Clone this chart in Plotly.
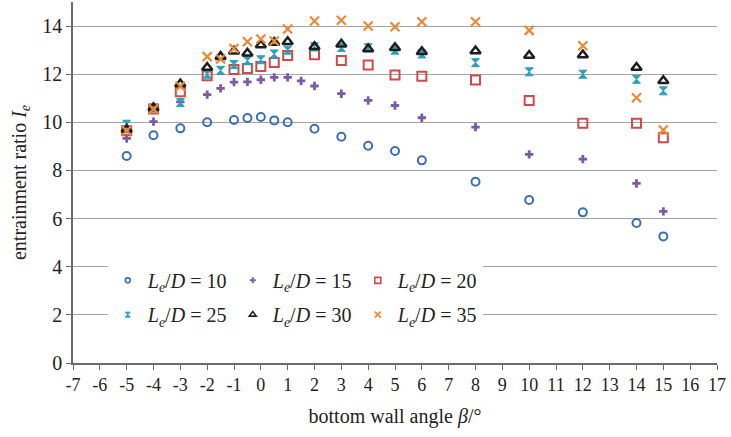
import plotly.graph_objects as go

# ---- data ----
x_10 = [-5, -4, -3, -2, -1, -0.5, 0, 0.5, 1, 2, 3, 4, 5, 6, 8, 10, 12, 14, 15]
y_10 = [8.6, 9.46, 9.75, 10.0, 10.1, 10.18, 10.22, 10.08, 10.0, 9.73, 9.4, 9.03, 8.81, 8.42, 7.53, 6.77, 6.26, 5.82, 5.26]

x_15 = [-5, -4, -3, -2, -1.5, -1, -0.5, 0, 0.5, 1, 1.5, 2, 3, 4, 5, 6, 8, 10, 12, 14, 15]
y_15 = [9.33, 10.03, 10.85, 11.15, 11.41, 11.67, 11.68, 11.77, 11.87, 11.87, 11.72, 11.51, 11.19, 10.91, 10.7, 10.19, 9.8, 8.67, 8.47, 7.46, 6.3]

x_20 = [-5, -4, -3, -2, -1, -0.5, 0, 0.5, 1, 2, 3, 4, 5, 6, 8, 10, 12, 14, 15]
y_20 = [9.65, 10.55, 11.27, 11.94, 12.2, 12.24, 12.32, 12.49, 12.78, 12.81, 12.57, 12.38, 11.97, 11.92, 11.76, 10.91, 9.96, 9.96, 9.36]

x_25 = [-5, -4, -3, -2, -1.5, -1, -0.5, 0, 0.5, 1, 2, 3, 4, 5, 6, 8, 10, 12, 14, 15]
y_25 = [9.92, 10.6, 10.82, 12.0, 12.16, 12.4, 12.56, 12.6, 12.84, 13.0, 13.14, 13.11, 13.1, 13.0, 12.84, 12.48, 12.1, 12.0, 11.79, 11.31]

x_30 = [-5, -4, -3, -2, -1.5, -1, -0.5, 0, 0.5, 1, 2, 3, 4, 5, 6, 8, 10, 12, 14, 15]
y_30 = [9.7, 10.6, 11.59, 12.28, 12.73, 12.95, 12.87, 13.21, 13.32, 13.35, 13.14, 13.24, 13.05, 13.1, 12.93, 12.96, 12.78, 12.8, 12.28, 11.73]

x_35 = [-5, -4, -3, -2, -1.5, -1, -0.5, 0, 0.5, 1, 2, 3, 4, 5, 6, 8, 10, 12, 14, 15]
y_35 = [9.65, 10.55, 11.5, 12.73, 12.63, 13.07, 13.35, 13.46, 13.38, 13.88, 14.21, 14.24, 14.0, 13.97, 14.18, 14.18, 13.82, 13.18, 11.02, 9.68]

x_ticks = list(range(-7, 18))
y_ticks = list(range(0, 15, 2))

FONT = "Liberation Serif, Times New Roman, serif"


def lbl(v):
    return f"<i>L</i><sub><i>e</i></sub>/<i>D</i> = {v}"


series = [
    (x_10, y_10, lbl(10), "circle-open", "#3d6fb0", 8, 2, "legend"),
    (x_15, y_15, lbl(15), "cross", "#7b5ba6", 7, 0, "legend"),
    (x_20, y_20, lbl(20), "square-open", "#d04a4c", 9, 2, "legend"),
    (x_25, y_25, lbl(25), "hourglass", "#2c9fbb", 8, 1, "legend2"),
    (x_30, y_30, lbl(30), "triangle-up-open", "#1e1e1e", 9, 2.5, "legend2"),
    (x_35, y_35, lbl(35), "x-thin-open", "#ea8a38", 9, 2.2, "legend2"),
]

fig = go.Figure()
for xs, ys, name, sym, col, sz, lw, lg in series:
    fig.add_trace(go.Scatter(
        x=xs, y=ys, mode="markers", name=name, showlegend=False,
        marker=dict(symbol=sym, size=sz, color=col, line=dict(width=lw, color=col)),
    ))
# legend entries with small symbols (as in the reference legend)
for xs, ys, name, sym, col, sz, lw, lg in series:
    fig.add_trace(go.Scatter(
        x=[None], y=[None], mode="markers", name=name, legend=lg, showlegend=True,
        marker=dict(symbol=sym, size=max(sz - 3, 5), color=col, line=dict(width=min(lw, 1.6), color=col)),
    ))

leg_common = dict(
    orientation="h",
    bgcolor="white",
    borderwidth=0,
    font=dict(family=FONT, size=20, color="#222"),
    entrywidth=80,
    entrywidthmode="pixels",
    xanchor="left",
    yanchor="top",
)

fig.update_layout(
    width=731,
    height=437,
    margin=dict(l=73, r=14, t=2, b=74, autoexpand=False),
    paper_bgcolor="white",
    plot_bgcolor="white",
    font=dict(family=FONT, size=19, color="#222"),
    showlegend=True,
    legend=dict(x=0.054, y=0.283, **leg_common),
    legend2=dict(x=0.054, y=0.188, **leg_common),
    xaxis=dict(
        range=[-7, 17],
        automargin=False,
        tickmode="array",
        tickvals=x_ticks,
        ticktext=[str(v) for v in x_ticks],
        showgrid=False,
        zeroline=False,
        showline=True,
        linecolor="#6b6b6b",
        linewidth=1.5,
        ticks="outside",
        ticklen=5,
        tickcolor="#6b6b6b",
        tickfont=dict(family=FONT, size=18, color="#222"),
        title=dict(text="bottom wall angle <i>β</i>/°", font=dict(family=FONT, size=20, color="#222"), standoff=15),
    ),
    yaxis=dict(
        range=[0, 15],
        automargin=False,
        tickmode="array",
        tickvals=y_ticks,
        ticktext=[str(v) for v in y_ticks],
        showgrid=True,
        gridcolor="#a6a6a6",
        gridwidth=1.3,
        zeroline=False,
        showline=True,
        linecolor="#6b6b6b",
        linewidth=1.5,
        ticks="outside",
        ticklen=5,
        tickcolor="#6b6b6b",
        tickfont=dict(family=FONT, size=20, color="#222"),
        title=dict(text="entrainment ratio <i>I</i><sub><i>e</i></sub>", font=dict(family=FONT, size=20, color="#222"), standoff=10),
    ),
)

fig.write_html("out.html", config={"displayModeBar": False},
               post_script="document.body.style.margin='0px';")
